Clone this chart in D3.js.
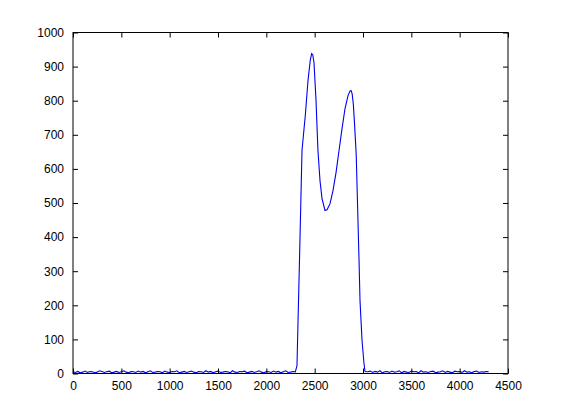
<!DOCTYPE html>
<html>
<head>
<meta charset="utf-8">
<script src="https://cdn.jsdelivr.net/npm/d3@7"></script>
<style>
  body { margin: 0; background: #fff; }
  svg { display: block; }
  .tick text { font-family: Arial, "Liberation Sans", sans-serif; font-size: 12px; fill: #000; }
</style>
</head>
<body>
<svg id="chart" width="561" height="420"></svg>
<script>
// baseline noise before the peaks, one value every 25 units from 0 to 2300
var leftBaseX = d3.range(0, 2301, 25);
var leftBaseY = [5, 3, 6, 2, 4, 7, 3, 6, 5, 2, 4, 8, 6, 3, 5, 7, 2, 4, 6, 3,
                 5, 8, 4, 2, 6, 5, 3, 7, 4, 6, 2, 5, 8, 3, 4, 6, 5, 2, 7, 4,
                 3, 6, 5, 8, 2, 4, 6, 3, 5, 7, 4, 2, 6, 5, 3, 8, 4, 6, 2, 5,
                 7, 3, 4, 6, 5, 2, 8, 4, 3, 6, 5, 7, 2, 4, 6, 3, 5, 8, 4, 2,
                 6, 5, 3, 7, 4, 6, 2, 5, 8, 3, 4, 6, 5];

// the two peaks
var peakX = [2317, 2328, 2343, 2369, 2398, 2402, 2431, 2455, 2469, 2480, 2493, 2514, 2534,
             2555, 2576, 2607, 2628, 2659, 2690, 2721, 2752, 2783, 2814, 2845, 2865, 2876,
             2888, 2900, 2912, 2930, 2948, 2959, 2969, 2990, 3010, 3021];
var peakY = [23, 155, 331, 654, 742, 752, 859, 920, 938, 935, 912, 801, 654,
             566, 513, 478, 480, 498, 537, 589, 654, 718, 777, 815, 828, 830,
             820, 790, 735, 640, 449, 331, 214, 97, 30, 6];

// baseline noise after the peaks
var rightBaseX = d3.range(3050, 4301, 25);
var rightBaseY = [5, 7, 3, 6, 4, 8, 2, 5, 6, 3, 7, 4, 5, 8, 2, 6, 4, 3, 7, 5,
                  6, 2, 8, 4, 5, 3, 6, 7, 2, 4, 5, 8, 3, 6, 4, 2, 7, 5, 6, 3,
                  8, 4, 5, 2, 6, 7, 3, 5, 4, 6, 5];

var xTicks = d3.range(0, 4501, 500);
var yTicks = d3.range(0, 1001, 100);

var points = [];
leftBaseX.forEach(function(x, i) { points.push([x, leftBaseY[i]]); });
peakX.forEach(function(x, i) { points.push([x, peakY[i]]); });
rightBaseX.forEach(function(x, i) { points.push([x, rightBaseY[i]]); });

var svg = d3.select('#chart');
var plotLeft = 73, plotRight = 508, plotTop = 32.5, plotBottom = 373.5;

var x = d3.scaleLinear().domain([0, 4500]).range([plotLeft, plotRight]);
var y = d3.scaleLinear().domain([0, 1000]).range([plotBottom, plotTop]);

var line = d3.line()
    .x(function(d) { return x(d[0]); })
    .y(function(d) { return y(d[1]); });

svg.append('path')
    .datum(points)
    .attr('d', line)
    .attr('fill', 'none')
    .attr('stroke', '#0000ee')
    .attr('stroke-width', 1.1);

function styleAxis(g) {
    g.select('.domain').remove();
    g.selectAll('.tick line').attr('stroke', '#000');
}

svg.append('g')
    .attr('transform', 'translate(0,' + plotBottom + ')')
    .call(d3.axisBottom(x).tickValues(xTicks).tickSize(-5).tickPadding(8).tickFormat(d3.format('d')))
    .call(styleAxis);

svg.append('g')
    .attr('transform', 'translate(0,' + plotTop + ')')
    .call(d3.axisTop(x).tickValues(xTicks).tickSize(-5).tickFormat(''))
    .call(styleAxis);

svg.append('g')
    .attr('transform', 'translate(' + plotLeft + ',0)')
    .call(d3.axisLeft(y).tickValues(yTicks).tickSize(-5).tickPadding(9).tickFormat(d3.format('d')))
    .call(styleAxis);

svg.append('g')
    .attr('transform', 'translate(' + plotRight + ',0)')
    .call(d3.axisRight(y).tickValues(yTicks).tickSize(-5).tickFormat(''))
    .call(styleAxis);

svg.append('rect')
    .attr('x', plotLeft)
    .attr('y', plotTop)
    .attr('width', plotRight - plotLeft)
    .attr('height', plotBottom - plotTop)
    .attr('fill', 'none')
    .attr('stroke', '#000')
    .attr('stroke-width', 1);
</script>
</body>
</html>
